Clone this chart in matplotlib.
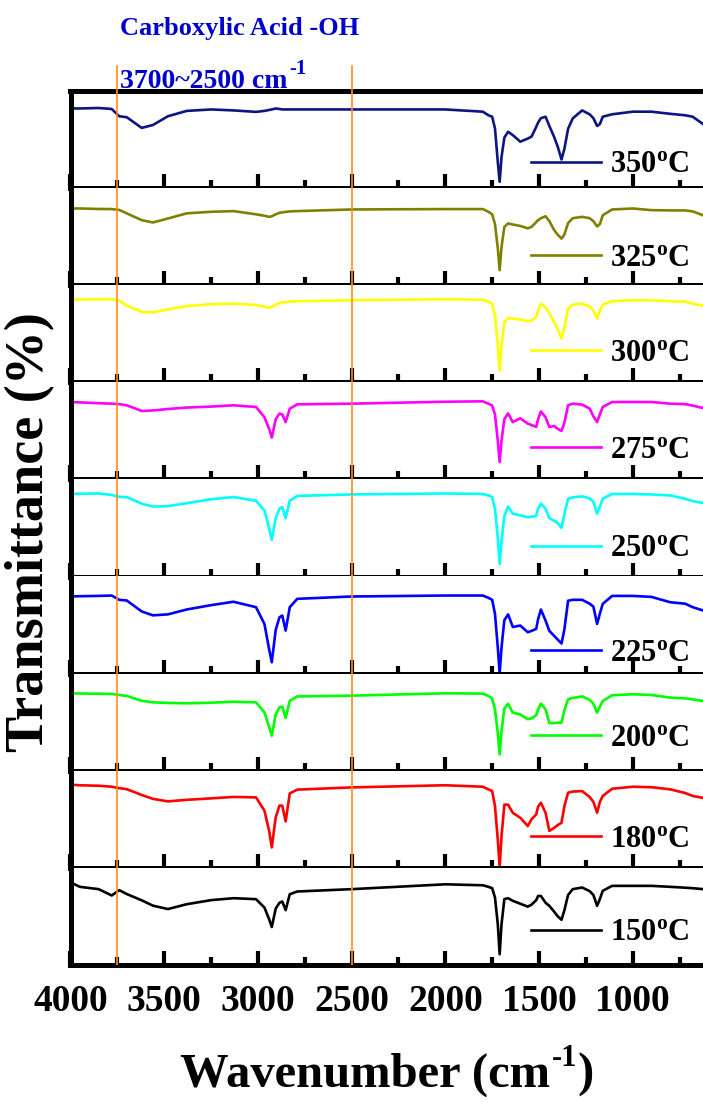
import matplotlib
matplotlib.use("Agg")
import matplotlib.pyplot as plt
from matplotlib.ticker import MultipleLocator

plt.rcParams['font.family'] = 'Liberation Serif'
plt.rcParams['font.weight'] = 'bold'
plt.rcParams['mathtext.fontset'] = 'custom'
plt.rcParams['mathtext.rm'] = 'Liberation Serif:bold'
plt.rcParams['mathtext.bf'] = 'Liberation Serif:bold'
plt.rcParams['mathtext.it'] = 'Liberation Serif:bold'

# shared wavenumber grid (cm-1) the spectra were read at
wavenumber = [4000, 3950, 3850, 3780, 3740, 3700, 3620, 3560, 3480, 3380, 3250, 3130,
              3010, 2965, 2940, 2926, 2905, 2885, 2870, 2852, 2830, 2790, 2500, 2000,
              1800, 1770, 1750, 1735, 1720, 1710, 1700, 1685, 1665, 1640, 1600, 1560,
              1540, 1515, 1505, 1490, 1465, 1445, 1420, 1400, 1380, 1365, 1345, 1320,
              1270, 1230, 1210, 1190, 1175, 1160, 1110, 1000, 900, 800, 720, 680, 625]

# transmittance, offset per panel (0-100 inside each panel)
t350 = [82, 82, 82.5, 81.5, 74, 73, 62, 65, 74, 79.5, 81, 80,
        78.5, 79.5, 80.5, 81, 82, 81.5, 81, 81, 81, 81, 81, 81,
        78.7, 75, 73.5, 61.5, 27, 6.5, 32, 52, 58, 54.6, 47.8, 51,
        53, 63, 67.5, 72, 73.5, 64, 53, 42.6, 29.5, 40, 61, 71.8,
        80, 76, 72, 64, 66, 73.5, 76, 78.7, 78.7, 76.5, 75, 73.5, 66]
t325 = [79, 79, 78.5, 78.4, 77.5, 74, 67, 64.6, 68.7, 74, 75.6, 76.3,
        73, 71.5, 70.4, 71, 73, 74.6, 75, 75.5, 76, 76.3, 78, 78.4,
        78.4, 75.6, 73, 63, 38, 15.5, 39.5, 60, 63.6, 62.5, 61, 58.6,
        60, 65, 67, 69, 71, 66, 57, 52, 48, 52, 64, 69,
        70.4, 69, 66, 60.5, 63, 72, 78, 79, 77.3, 77, 77, 76, 72]
t300 = [85, 85.3, 85.5, 85.6, 84, 79, 72.5, 72, 75, 78.5, 80.4, 81,
        79.6, 78, 76.6, 78, 80, 81.5, 82, 82.5, 83, 83.5, 84.5, 85.5,
        85, 83, 81, 69, 38, 12.4, 38, 62, 66, 65.6, 64.6, 63,
        63.5, 67, 74, 81, 77, 71, 62, 55, 45, 56, 76, 80,
        81, 78, 74, 65.6, 74, 80, 83.5, 84.5, 84.5, 83.5, 83, 81, 78.7]
t275 = [79.7, 79.3, 78.5, 78, 77.5, 76.3, 70.5, 71, 72.5, 74, 75, 76.3,
        74.6, 64, 52, 43, 62, 67.7, 67, 59, 72.8, 77.3, 78, 80,
        80.4, 78, 76, 67, 40, 17.9, 40, 62, 68, 59, 63, 57.4,
        56, 54, 62, 70, 64, 54, 55, 52, 50, 58, 76.3, 78,
        77, 73, 65, 59, 67, 74.6, 79.7, 79.7, 79.7, 78, 77.5, 76, 73.5]
t250 = [85, 85.3, 85.5, 84, 82, 81.8, 75, 72, 72.5, 75.5, 79.5, 81.8,
        78, 68, 50, 37.8, 60, 69.8, 71.5, 60, 78, 83, 84.5, 85.5,
        85, 83.5, 81.8, 69.8, 40, 13, 37, 62, 72, 64.6, 63, 61,
        61.5, 62.5, 70, 75, 70, 60, 57.5, 55, 50, 64, 80, 81.5,
        82.5, 80.5, 77, 64.6, 72, 80, 85, 85, 84.5, 83.5, 80, 77.7, 75.6]
t225 = [79.4, 79.7, 80, 80.4, 76, 75.3, 64, 60, 61, 66, 70.5, 74,
        68.4, 51, 25, 11.7, 45, 58, 59.8, 44.3, 68.4, 77, 79.4, 80.4,
        80.4, 78, 76, 61.5, 27, 0.5, 27, 55, 61, 48, 49.5, 42.6,
        44, 46, 56, 66, 54.6, 44, 39, 35, 31, 45, 75, 76,
        76, 72, 69, 51.2, 62, 71.8, 80, 80, 79, 73.5, 72, 68.4, 65]
t200 = [79.7, 79.5, 79.3, 79, 78, 77, 72, 70.4, 69.8, 69.4, 70, 71,
        70.4, 60, 45, 36, 58, 65.3, 66, 54.3, 72, 76.5, 77.3, 79.7,
        79.4, 77, 74.2, 63, 39, 16.8, 41, 64, 69, 59.8, 58, 53,
        54, 57, 63.2, 69, 63.2, 49, 49, 49.5, 49.5, 62, 73.5, 75,
        76.5, 73, 69, 59.8, 66, 71.8, 77.7, 78.7, 78, 75.3, 74.5, 73.5, 71.8]
t180 = [85.6, 85, 84.5, 83.5, 82, 81, 75, 71, 68.4, 70, 71.5, 73,
        72.5, 58.8, 38, 21, 52, 64, 64, 47.8, 76.6, 80.5, 82.8, 85,
        83.5, 80.8, 79, 63.6, 29, 0.5, 32.6, 65, 65, 56.7, 51.5, 43,
        50, 55, 63, 67, 56.7, 38, 41, 44, 46.4, 63, 77.3, 78.5,
        79, 73, 68, 56.7, 68, 74, 81.4, 83.5, 83, 80.8, 77, 74, 72]
t150 = [85, 80.4, 78, 71.5, 77, 73, 66.5, 61, 57.5, 62.5, 66.7, 68.7,
        67.7, 59, 47, 39, 58, 64, 65.3, 56.4, 72.8, 75.6, 78, 83,
        82, 80.4, 79, 69.4, 42, 11, 42, 67.7, 68.7, 66, 63, 60,
        62, 66.7, 71, 71, 64, 60.8, 55, 50, 46.5, 56, 72, 78,
        79.7, 76, 72, 60.8, 68, 76.3, 81.4, 81.4, 81.4, 80.4, 79.5, 79, 78]

temps = ['350', '325', '300', '275', '250', '225', '200', '180', '150']
spectra = [t350, t325, t300, t275, t250, t225, t200, t180, t150]
colors = ['#0c1680', '#808000', '#ffff00', '#ff00ff', '#00ffff',
          '#0000ff', '#00ff00', '#ff0000', '#000000']
oh_band = [3750, 2500]

# layout (pixels of the 703x1102 picture)
W, H = 703, 1102
left = 70.5 / W
top = 1 - 91 / H
ph = 97.1 / H
leg_y = [0.24, 0.28, 0.30, 0.30, 0.285, 0.21, 0.33, 0.29, 0.33]

fig = plt.figure(figsize=(W / 100, H / 100), dpi=100)
axes = []
for i in range(len(temps)):
    ax = fig.add_axes([left, top - (i + 1) * ph, 1 - left, ph])
    axes.append(ax)
    ax.plot(wavenumber, spectra[i], color=colors[i], lw=1.9,
            label=temps[i] + r'$^{\mathbf{o}}$C', zorder=2)
    ax.set_xlim(4000, 625)
    ax.set_ylim(0, 100)
    ax.set_yticks([])
    ax.xaxis.set_major_locator(MultipleLocator(500))
    ax.xaxis.set_minor_locator(MultipleLocator(250))
    ax.tick_params(axis='x', which='major', direction='in', length=10, width=3,
                   top=False, labelsize=27, pad=14)
    ax.tick_params(axis='x', which='minor', direction='in', length=6, width=3,
                   top=False)
    ax.spines['right'].set_visible(False)
    if i > 0:
        ax.spines['top'].set_visible(False)
    for s in ['left', 'bottom', 'top']:
        ax.spines[s].set_linewidth(3.6)
    if i < len(temps) - 1:
        ax.tick_params(axis='x', labelbottom=False)
    # orange guide lines for the carboxylic -OH band
    for wn0 in oh_band:
        if i == 0:
            ax.axvline(wn0, ymin=0, ymax=1.26, color='#ff8c1a', lw=1.2,
                       clip_on=False, zorder=3)
        else:
            ax.axvline(wn0, color='#ff8c1a', lw=1.2, zorder=3)
    ax.legend(loc='center right', bbox_to_anchor=(0.978, leg_y[i]), frameon=False,
              fontsize=22, handlelength=2.3, handletextpad=0.3, borderpad=0,
              borderaxespad=0)

blue = '#0000cc'
fig.text(120 / W, 1 - 35 / H, 'Carboxylic Acid -OH', color=blue,
         fontsize=19, ha='left', va='baseline')
band = fig.text(120 / W, 1 - 88 / H, '3700~2500 cm', color=blue,
                fontsize=20, ha='left', va='baseline')
fig.axes[0].annotate('-1', xy=(1, 1), xycoords=band, xytext=(1, 0),
                     textcoords='offset points', color=blue, fontsize=15,
                     ha='left', va='center', annotation_clip=False)

xl = fig.text(180 / W, 1 - 1087 / H, 'Wavenumber (cm', fontsize=35,
              ha='left', va='baseline')
sup = fig.axes[-1].annotate('-1', xy=(1, 1), xycoords=xl, xytext=(1, -4),
                            textcoords='offset points', fontsize=22,
                            ha='left', va='center', annotation_clip=False)
fig.axes[-1].annotate(')', xy=(1, 0), xycoords=(sup, xl), xytext=(0, 0),
                      textcoords='offset points', fontsize=35,
                      ha='left', va='bottom', annotation_clip=False)

fig.text(30 / W, 1 - 532 / H, 'Transmittance (%)', fontsize=39,
         rotation=90, ha='center', va='center')

fig.savefig('out.png', dpi=100)
